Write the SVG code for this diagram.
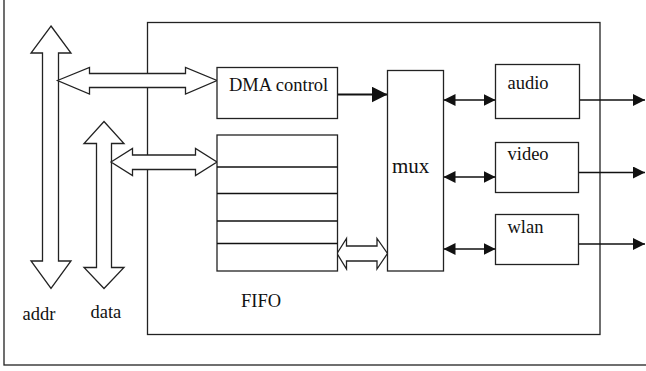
<svg xmlns="http://www.w3.org/2000/svg" width="646" height="371" viewBox="0 0 646 371">
  <defs>
    <style>
      .box { fill: #fff; stroke: #222; stroke-width: 1.3; }
      .frame { fill: none; stroke: #222; stroke-width: 1.3; }
      .hollow { fill: #fff; stroke: #222; stroke-width: 1.3; stroke-linejoin: miter; }
      .wire { fill: none; stroke: #111; stroke-width: 1.3; }
      .bold { fill: none; stroke: #111; stroke-width: 2; }
      text { font-family: 'Liberation Serif', 'DejaVu Serif', serif; font-size: 18.5px; fill: #111; }
    </style>
    <marker id="head" viewBox="0 0 12 12" refX="12" refY="6" markerWidth="12" markerHeight="12" markerUnits="userSpaceOnUse" orient="auto-start-reverse">
      <path d="M0,0 L12,6 L0,12 Z" fill="#111"/>
    </marker>
    <marker id="bighead" viewBox="0 0 16 16" refX="16" refY="8" markerWidth="16" markerHeight="16" markerUnits="userSpaceOnUse" orient="auto">
      <path d="M0,0 L16,8 L0,16 Z" fill="#111"/>
    </marker>
  </defs>

  <rect width="646" height="371" fill="#fff"/>

  <!-- outer frame (right and top edges run off the sheet) -->
  <rect class="frame" x="4" y="-5" width="660" height="370"/>
  <!-- chip outline -->
  <rect class="frame" x="147.5" y="22.5" width="452.5" height="312"/>

  <g id="connectors">
    <!-- addr bus -->
    <polygon class="hollow" points="51,26 71,53 58.5,53 58.5,261 71,261 51,288.5 31,261 42.5,261 42.5,53 31,53"/>
    <!-- data bus -->
    <polygon class="hollow" points="104,121.5 124,143.5 111.5,143.5 111.5,267.5 124,267.5 104,288.5 84,267.5 96.5,267.5 96.5,143.5 84,143.5"/>
    <!-- addr <-> DMA control -->
    <polygon class="hollow" points="57.5,80.5 89.5,67.5 89.5,73.5 185.5,73.5 185.5,67.5 217,80.5 185.5,94 185.5,87.5 89.5,87.5 89.5,94"/>
    <!-- data <-> FIFO -->
    <polygon class="hollow" points="111,162 132.5,148.5 132.5,155 195.5,155 195.5,148.5 217,162 195.5,175.5 195.5,169.5 132.5,169.5 132.5,175.5"/>
    <!-- FIFO <-> mux -->
    <polygon class="hollow" points="337,253.5 346.5,238.5 346.5,246 377,246 377,238.5 387.5,253.5 377,269 377,261 346.5,261 346.5,269"/>
    <!-- DMA control -> mux -->
    <line class="bold" x1="337.5" y1="94.5" x2="387.5" y2="94.5" marker-end="url(#bighead)"/>
    <!-- mux <-> peripherals -->
    <line class="wire" x1="443.5" y1="100" x2="495.5" y2="100" marker-start="url(#head)" marker-end="url(#head)"/>
    <line class="wire" x1="443.5" y1="177" x2="495.5" y2="177" marker-start="url(#head)" marker-end="url(#head)"/>
    <line class="wire" x1="443.5" y1="249" x2="495.5" y2="249" marker-start="url(#head)" marker-end="url(#head)"/>
    <!-- peripheral outputs -->
    <line class="wire" x1="579" y1="100" x2="645" y2="100" marker-end="url(#head)"/>
    <line class="wire" x1="578.5" y1="172.5" x2="645" y2="172.5" marker-end="url(#head)"/>
    <line class="wire" x1="578.5" y1="244" x2="645" y2="244" marker-end="url(#head)"/>
  </g>

  <g id="dma">
    <rect class="box" x="217" y="67.5" width="120.5" height="51"/>
    <text x="229" y="91">DMA control</text>
  </g>

  <g id="fifo">
    <rect class="box" x="217" y="135" width="120.5" height="136"/>
    <line class="wire" x1="217" y1="167" x2="337.5" y2="167"/>
    <line class="wire" x1="217" y1="193.5" x2="337.5" y2="193.5"/>
    <line class="wire" x1="217" y1="221" x2="337.5" y2="221"/>
    <line class="wire" x1="217" y1="243.5" x2="337.5" y2="243.5"/>
    <text x="241" y="306.5">FIFO</text>
  </g>

  <g id="mux">
    <rect class="box" x="387.5" y="70.5" width="56" height="200.5"/>
    <text x="392" y="172.5" style="font-size:21px">mux</text>
  </g>

  <g id="audio">
    <rect class="box" x="495.5" y="64.5" width="84" height="54"/>
    <text x="507.5" y="88.5">audio</text>
  </g>

  <g id="video">
    <rect class="box" x="495.5" y="142.5" width="83" height="50"/>
    <text x="507.5" y="160">video</text>
  </g>

  <g id="wlan">
    <rect class="box" x="495.5" y="214.5" width="83" height="50"/>
    <text x="507.5" y="232.5">wlan</text>
  </g>

  <g id="bus-labels">
    <text x="22.5" y="320">addr</text>
    <text x="90.5" y="317.5">data</text>
  </g>
</svg>
